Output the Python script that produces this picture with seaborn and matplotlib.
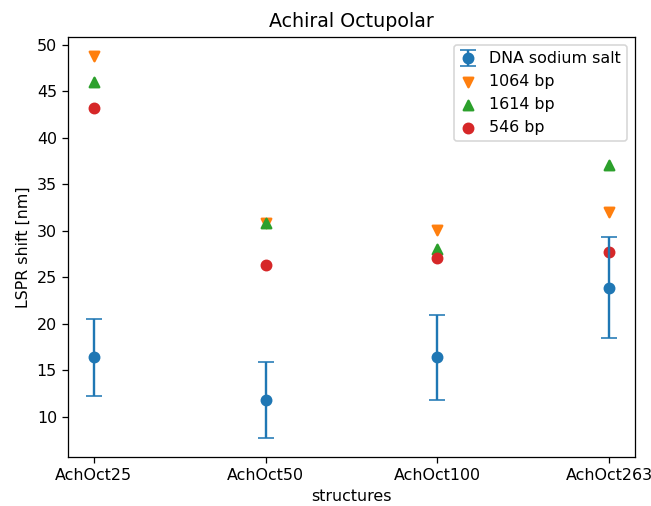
import matplotlib
matplotlib.use('Agg')
import matplotlib.pyplot as plt
from matplotlib.ticker import MultipleLocator
import seaborn as sns

structures = ['AchOct25', 'AchOct50', 'AchOct100', 'AchOct263']
dna_salt = [16.4, 11.8, 16.4, 23.9]
dna_salt_err = [4.15, 4.05, 4.55, 5.45]
bp_1064 = [48.8, 30.8, 30.1, 32.0]
bp_1614 = [46.0, 30.8, 28.1, 37.1]
bp_546 = [43.2, 26.3, 27.1, 27.7]

fig, ax = plt.subplots(figsize=(651 / 114, 506 / 114), dpi=114)
fig.subplots_adjust(left=0.1045, right=0.9754, top=0.927, bottom=0.097)

ax.errorbar(structures, dna_salt, yerr=dna_salt_err, fmt='o', capsize=5,
            markersize=6.5, color='C0', label='DNA sodium salt')
sns.scatterplot(x=structures, y=bp_1064, marker='v', color='C1', s=36,
                edgecolor='face', linewidth=1.5, label='1064 bp', ax=ax)
sns.scatterplot(x=structures, y=bp_1614, marker='^', color='C2', s=36,
                edgecolor='face', linewidth=1.5, label='1614 bp', ax=ax)
sns.scatterplot(x=structures, y=bp_546, marker='o', color='C3', s=36,
                edgecolor='face', linewidth=1.5, label='546 bp', ax=ax)

handles, labels = ax.get_legend_handles_labels()
order = [labels.index(l) for l in ['DNA sodium salt', '1064 bp', '1614 bp', '546 bp']]
ax.legend([handles[i] for i in order], [labels[i] for i in order],
          loc='upper right', handlelength=1)

ax.yaxis.set_major_locator(MultipleLocator(5))
ax.set_title('Achiral Octupolar')
ax.set_xlabel('structures')
ax.set_ylabel('LSPR shift [nm]')

fig.savefig('out.png', dpi=114)
